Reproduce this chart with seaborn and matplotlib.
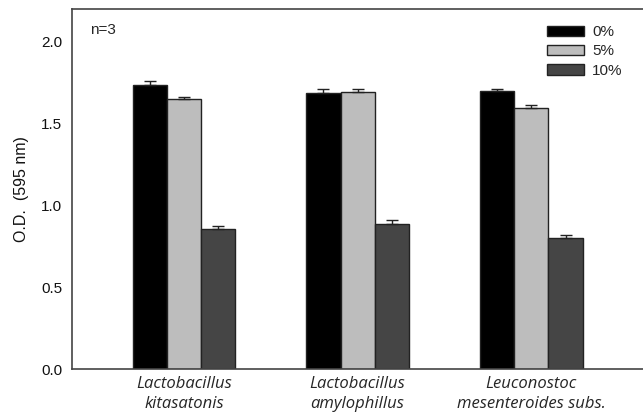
import matplotlib
matplotlib.use("Agg")
import matplotlib.pyplot as plt
import seaborn as sns
import pandas as pd
import numpy as np

categories = ["Lactobacillus\nkitasatonis", "Lactobacillus\namylophillus", "Leuconostoc\nmesenteroides subs."]
concentrations = ["0%", "5%", "10%"]
values_0 = [1.738, 1.685, 1.697]
values_5 = [1.650, 1.693, 1.593]
values_10 = [0.857, 0.887, 0.803]
err_0 = [0.023, 0.028, 0.016]
err_5 = [0.014, 0.016, 0.018]
err_10 = [0.020, 0.022, 0.016]
yticks = [0.0, 0.5, 1.0, 1.5, 2.0]

sns.set_style("white")
plt.rcParams['font.family'] = ['Liberation Sans', 'DejaVu Sans']

rows = []
for conc, vals in zip(concentrations, [values_0, values_5, values_10]):
    for cat, v in zip(categories, vals):
        rows.append({"strain": cat, "conc": conc, "od": v})
df = pd.DataFrame(rows)

fig = plt.figure(figsize=(6.43, 4.19), dpi=100)
ax = fig.add_axes([0.112, 0.1193, 0.89, 0.8592])

palette = {"0%": "#000000", "5%": "#bdbdbd", "10%": "#454545"}
sns.barplot(data=df, x="strain", y="od", hue="conc", order=categories,
            hue_order=concentrations, palette=palette, width=0.59,
            errorbar=None, edgecolor="#222222", linewidth=1.0, saturation=1,
            ax=ax)

for cont, errs in zip(ax.containers, [err_0, err_5, err_10]):
    xs = [p.get_x() + p.get_width() / 2 for p in cont]
    hs = [p.get_height() for p in cont]
    ax.errorbar(xs, hs, yerr=[np.zeros(len(errs)), errs], fmt="none",
                ecolor="#222222", elinewidth=1.0, capsize=4.3, capthick=1.0)

ax.set_ylim(0, 2.2)
ax.set_xlim(-0.644, 2.65)
ax.set_yticks(yticks)
ax.set_yticklabels([f"{t:.1f}" for t in yticks], fontsize=11, color="#111111")
ax.set_xticks(range(len(categories)))
ax.set_xticklabels(categories, fontsize=12, style="italic",
                   family=["Open Sans", "DejaVu Sans"], linespacing=1.35)
ax.tick_params(axis="y", direction="out", length=4, width=1, color="#333333", pad=3)
ax.tick_params(axis="x", length=0, pad=5)
ax.set_xlabel("")
ax.set_ylabel("O.D.  (595 nm)", fontsize=11.5, color="#111111", labelpad=9)

for s in ["left", "bottom", "top"]:
    ax.spines[s].set_color("#444444")
    ax.spines[s].set_linewidth(1.2)
ax.spines["right"].set_visible(False)

ax.text(0.032, 0.96, "n=3", transform=ax.transAxes, fontsize=11, va="top", ha="left")

leg = ax.legend(loc="upper left", bbox_to_anchor=(0.851, 0.94), bbox_transform=fig.transFigure,
                frameon=False, fontsize=11, handlelength=2.4, handleheight=0.65,
                labelspacing=0.35, handletextpad=0.55, borderpad=0, borderaxespad=0)
for h in leg.legend_handles:
    h.set_edgecolor("#222222")
    h.set_linewidth(1.0)

fig.savefig("out.png", dpi=100)
